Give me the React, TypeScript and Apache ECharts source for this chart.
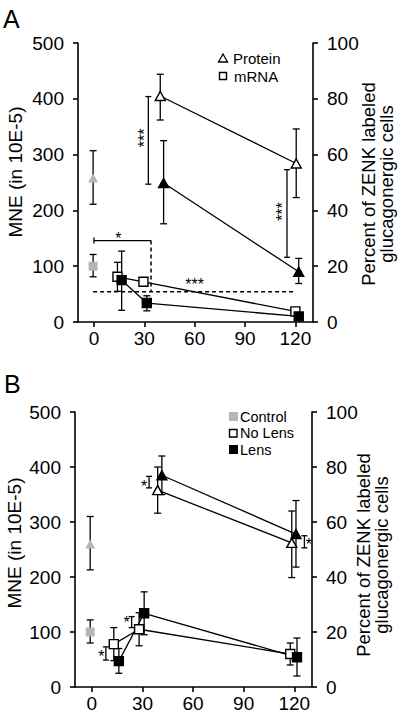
import React, { useEffect, useRef } from "react";
import * as echarts from "echarts";

const FONT = "'Liberation Sans', Arial, Helvetica, sans-serif";
const GRAY = "#b5b5b5";

// ---------- axes ----------
const xTickValues = [0, 30, 60, 90, 120];
const leftAxisRange = [0, 500, 100]; // min, max, interval
const rightAxisRange = [0, 100, 20];

// ---------- Panel A : [minutes, mean, upper, lower] ----------
const aControlTriangle = [[-0.5, 258, 307, 211]];
const aControlSquare = [[-0.5, 100, 121, 81]];
const aMrnaOpen = [[14, 81, 107, 55], [29.5, 72, 77, 67], [120, 19, 24, 14]];
const aMrnaFilled = [[16.5, 75, 127, 21], [31.5, 34, 47, 20], [122, 10, 14, 6]];
const aProteinOpen = [[39.5, 405, 444, 362], [120.5, 284, 346, 223]];
const aProteinFilled = [[41.5, 249, 325, 176], [122, 90, 114, 69]];

// comparison brackets [x, low, high]
const aBrackets = [[32.4, 247, 404], [115, 116, 273]];
// stars [x, y, text, vertical(1)/horizontal(0)]
const aStars: [number, number, string, number][] = [
  [27.8, 330, "***", 1],
  [110, 198, "***", 1],
  [14.5, 156, "*", 0],
  [60, 75, "***", 0],
];
const aSolidBracket = [[0, 146], [34, 146]];
const aDashedSegments = [
  [[34, 146], [34, 54]],
  [[-0.5, 54], [119, 54]],
];

// ---------- Panel B ----------
const bControlTriangle = [[-1, 260, 310, 213]];
const bControlSquare = [[-1, 100, 122, 80]];
const bNoLensSquare = [[13, 78, 108, 48], [28, 105, 135, 75], [117.6, 60, 80, 40]];
const bLensSquare = [[16, 47, 70, 25], [31, 134, 173, 95], [121.6, 54, 89, 20]];
const bNoLensTriangle = [[39, 358, 400, 316], [118.5, 262, 320, 199]];
const bLensTriangle = [[41.5, 385, 420, 350], [121, 278, 339, 218]];

const bBrackets = [[8.3, 49, 73], [23.6, 108, 128], [33.9, 362, 383], [126, 253, 275]];
const bStars: [number, number, string, number][] = [
  [5.7, 62, "*", 0],
  [20.6, 124, "*", 0],
  [30.9, 371, "*", 0],
  [128.6, 267, "*", 0],
];

const STROKE = { stroke: "#000", lineWidth: 1.3 };

function ibeam(capHalf: number) {
  return (params: any, api: any) => {
    const x = api.value(0);
    const lo = api.value(1);
    const hi = api.value(2);
    const a = api.coord([x, hi]);
    const b = api.coord([x, lo]);
    return {
      type: "group",
      children: [
        { type: "line", shape: { x1: a[0], y1: a[1], x2: b[0], y2: b[1] }, style: STROKE },
        { type: "line", shape: { x1: a[0] - capHalf, y1: a[1], x2: a[0] + capHalf, y2: a[1] }, style: STROKE },
        { type: "line", shape: { x1: b[0] - capHalf, y1: b[1], x2: b[0] + capHalf, y2: b[1] }, style: STROKE },
      ],
    };
  };
}

function errorSeries(idx: number, groups: number[][][]) {
  const data: number[][] = [];
  groups.forEach((g) => g.forEach((p) => data.push([p[0], p[3], p[2]])));
  return {
    type: "custom",
    xAxisIndex: idx,
    yAxisIndex: idx * 2,
    coordinateSystem: "cartesian2d",
    encode: { x: 0, y: [1, 2] },
    silent: true,
    z: 1,
    renderItem: ibeam(3.5),
    data,
  };
}

function bracketSeries(idx: number, brackets: number[][]) {
  return {
    type: "custom",
    xAxisIndex: idx,
    yAxisIndex: idx * 2,
    coordinateSystem: "cartesian2d",
    encode: { x: 0, y: [1, 2] },
    silent: true,
    z: 1,
    renderItem: ibeam(3),
    data: brackets,
  };
}

function starSeries(idx: number, stars: [number, number, string, number][]) {
  return {
    type: "custom",
    xAxisIndex: idx,
    yAxisIndex: idx * 2,
    coordinateSystem: "cartesian2d",
    encode: { x: 0, y: 1 },
    silent: true,
    z: 3,
    renderItem: (params: any, api: any) => {
      const s = stars[params.dataIndex];
      const p = api.coord([s[0], s[1]]);
      const vertical = s[3] === 1;
      return {
        type: "text",
        x: vertical ? p[0] + 4 : p[0],
        y: vertical ? p[1] : p[1] + 4,
        rotation: vertical ? Math.PI / 2 : 0,
        style: {
          text: s[2],
          fontSize: 16,
          fontFamily: FONT,
          fill: "#000",
          align: "center",
          verticalAlign: "middle",
          textAlign: "center",
          textVerticalAlign: "middle",
        },
      };
    },
    data: stars.map((s) => [s[0], s[1]]),
  };
}

function guideSeries() {
  return {
    type: "custom",
    xAxisIndex: 0,
    yAxisIndex: 0,
    coordinateSystem: "cartesian2d",
    encode: { x: 0, y: 1 },
    silent: true,
    z: 1,
    renderItem: (params: any, api: any) => {
      const s0 = api.coord(aSolidBracket[0]);
      const s1 = api.coord(aSolidBracket[1]);
      const children: any[] = [
        { type: "line", shape: { x1: s0[0], y1: s0[1], x2: s1[0], y2: s1[1] }, style: STROKE },
        { type: "line", shape: { x1: s0[0], y1: s0[1] - 3, x2: s0[0], y2: s0[1] + 3 }, style: STROKE },
      ];
      aDashedSegments.forEach((seg) => {
        const a = api.coord(seg[0]);
        const b = api.coord(seg[1]);
        children.push({
          type: "line",
          shape: { x1: a[0], y1: a[1], x2: b[0], y2: b[1] },
          style: { stroke: "#000", lineWidth: 1.5, lineDash: [4, 3] },
        });
      });
      return { type: "group", children };
    },
    data: [[0, 100]],
  };
}

function lineSeries(idx: number, name: string, pts: number[][], symbol: string, fill: string, size: any, showLine = true) {
  return {
    name,
    type: "line",
    xAxisIndex: idx,
    yAxisIndex: idx * 2,
    data: pts.map((p) => [p[0], p[1]]),
    symbol,
    symbolSize: size,
    showSymbol: true,
    silent: true,
    z: 3,
    lineStyle: { color: "#000", width: 1.3, opacity: showLine ? 1 : 0 },
    itemStyle: {
      color: fill,
      borderColor: fill === GRAY ? GRAY : "#000",
      borderWidth: fill === GRAY ? 0 : 1.4,
      opacity: 1,
    },
  };
}

const TRI = [10, 9];
const SQ = 9;

function axesFor(idx: number, xmin: number, xmax: number) {
  const axisLine = { show: true, onZero: false, lineStyle: { color: "#000", width: 1.6 } };
  const axisTick = { show: true, inside: false, length: 5, lineStyle: { color: "#000", width: 1.6 } };
  const label = { color: "#000", fontSize: 19, fontFamily: FONT };
  const x = {
    type: "value",
    gridIndex: idx,
    min: xmin,
    max: xmax,
    axisLine,
    axisTick: { ...axisTick, customValues: xTickValues },
    axisLabel: { ...label, margin: 7, customValues: xTickValues },
    splitLine: { show: false },
  };
  const yl = {
    type: "value",
    gridIndex: idx,
    position: "left",
    min: leftAxisRange[0],
    max: leftAxisRange[1],
    interval: leftAxisRange[2],
    axisLine,
    axisTick,
    axisLabel: { ...label, margin: 14 },
    splitLine: { show: false },
  };
  const yr = {
    type: "value",
    gridIndex: idx,
    position: "right",
    min: rightAxisRange[0],
    max: rightAxisRange[1],
    interval: rightAxisRange[2],
    axisLine,
    axisTick,
    axisLabel: { ...label, margin: 14 },
    splitLine: { show: false },
  };
  return { x, yl, yr };
}

function textEl(text: string, x: number, y: number, fontSize: number, opts: any = {}) {
  return {
    type: "text",
    x,
    y,
    rotation: opts.rotation || 0,
    style: {
      text,
      fontSize,
      fontFamily: FONT,
      fill: "#000",
      align: opts.align || "left",
      verticalAlign: "middle",
      textAlign: opts.align || "left",
      textVerticalAlign: "middle",
      lineHeight: opts.lineHeight,
    },
    silent: true,
  };
}

export default function App() {
  const ref = useRef<HTMLDivElement>(null);
  useEffect(() => {
    if (!ref.current) return;
    const chart = echarts.init(ref.current, null, { renderer: "svg" });
    const A = axesFor(0, -9.5, 130.5);
    const B = axesFor(1, -10, 130.5);
    const option = {
      animation: false,
      backgroundColor: "#fff",
      grid: [
        { left: 78, top: 43, width: 235, height: 279 },
        { left: 75, top: 412, width: 237, height: 275 },
      ],
      xAxis: [A.x, B.x],
      yAxis: [A.yl, A.yr, B.yl, B.yr],
      series: [
        guideSeries(),
        errorSeries(0, [aControlTriangle, aControlSquare, aMrnaOpen, aMrnaFilled, aProteinOpen, aProteinFilled]),
        bracketSeries(0, aBrackets),
        starSeries(0, aStars),
        lineSeries(0, "Control protein", aControlTriangle, "triangle", GRAY, TRI, false),
        lineSeries(0, "Control mRNA", aControlSquare, "rect", GRAY, SQ, false),
        lineSeries(0, "mRNA", aMrnaOpen, "rect", "#fff", SQ),
        lineSeries(0, "mRNA filled", aMrnaFilled, "rect", "#000", SQ),
        lineSeries(0, "Protein", aProteinOpen, "triangle", "#fff", TRI),
        lineSeries(0, "Protein filled", aProteinFilled, "triangle", "#000", TRI),

        errorSeries(1, [bControlTriangle, bControlSquare, bNoLensSquare, bLensSquare, bNoLensTriangle, bLensTriangle]),
        bracketSeries(1, bBrackets),
        starSeries(1, bStars),
        lineSeries(1, "Control triangle", bControlTriangle, "triangle", GRAY, TRI, false),
        lineSeries(1, "Control", bControlSquare, "rect", GRAY, SQ, false),
        lineSeries(1, "No Lens", bNoLensSquare, "rect", "#fff", SQ),
        lineSeries(1, "Lens", bLensSquare, "rect", "#000", SQ),
        lineSeries(1, "No Lens triangle", bNoLensTriangle, "triangle", "#fff", TRI),
        lineSeries(1, "Lens triangle", bLensTriangle, "triangle", "#000", TRI),
      ],
      graphic: [
        textEl("A", 3, 19, 25),
        textEl("B", 4, 384, 25),
        textEl("MNE (in 10E-5)", 15, 172, 19, { rotation: Math.PI / 2, align: "center" }),
        textEl("MNE (in 10E-5)", 14, 543, 19, { rotation: Math.PI / 2, align: "center" }),
        textEl("Percent of ZENK labeled\nglucagonergic cells", 377, 184, 18.5, {
          rotation: Math.PI / 2,
          align: "center",
          lineHeight: 18,
        }),
        textEl("Percent of ZENK labeled\nglucagonergic cells", 372, 555, 18.5, {
          rotation: Math.PI / 2,
          align: "center",
          lineHeight: 18,
        }),
        // legend A
        {
          type: "polygon",
          shape: { points: [[218.5, 62], [227.5, 62], [223, 54]] },
          style: { fill: "#fff", stroke: "#000", lineWidth: 1.3 },
          silent: true,
        },
        textEl("Protein", 233, 58, 15, { lineHeight: 16 }),
        {
          type: "rect",
          shape: { x: 219.5, y: 72.5, width: 7, height: 7 },
          style: { fill: "#fff", stroke: "#000", lineWidth: 1.4 },
          silent: true,
        },
        textEl("mRNA", 234, 76, 15, { lineHeight: 16 }),
        // legend B
        {
          type: "rect",
          shape: { x: 229, y: 412, width: 9, height: 9 },
          style: { fill: GRAY },
          silent: true,
        },
        textEl("Control", 240, 416.5, 14.5, { lineHeight: 15 }),
        {
          type: "rect",
          shape: { x: 229.5, y: 429.5, width: 7.5, height: 7.5 },
          style: { fill: "#fff", stroke: "#000", lineWidth: 1.4 },
          silent: true,
        },
        textEl("No Lens", 240, 433, 14.5, { lineHeight: 15 }),
        {
          type: "rect",
          shape: { x: 229, y: 445, width: 9, height: 9 },
          style: { fill: "#000" },
          silent: true,
        },
        textEl("Lens", 240, 449.5, 14.5, { lineHeight: 15 }),
      ],
    };
    chart.setOption(option as any);
    return () => chart.dispose();
  }, []);
  return (
    <div
      ref={ref}
      style={{ position: "absolute", left: 0, top: 0, width: 398, height: 721, background: "#fff" }}
    />
  );
}
